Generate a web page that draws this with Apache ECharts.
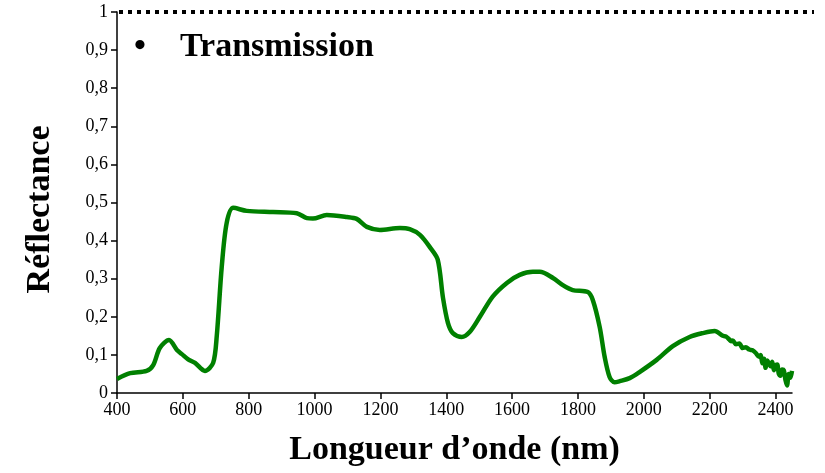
<!DOCTYPE html>
<html>
<head>
<meta charset="utf-8">
<script src="https://cdn.jsdelivr.net/npm/echarts@6/dist/echarts.min.js"></script>
<style>
  html, body { margin: 0; padding: 0; background: #fff; }
  #chart { width: 825px; height: 473px; }
</style>
</head>
<body>
<div id="chart"></div>
<script>
// longueur d'onde (nm) et réflectance
var wavelengths = [
  400, 440, 490, 510, 530, 558, 582, 597, 615, 637, 667, 692, 703, 718, 733, 753,
  794, 874, 946, 977, 995, 1037, 1098, 1128, 1159, 1198, 1259, 1289, 1320, 1350, 1374, 1390,
  1405, 1420, 1447, 1471, 1502, 1541, 1584, 1623, 1663, 1684, 1724, 1754, 1784, 1830, 1845, 1866,
  1881, 1896, 1911, 1927, 1957, 1987, 2039, 2088, 2139, 2178, 2215, 2240, 2250, 2260, 2265, 2270,
  2280, 2290, 2300, 2310, 2320, 2330, 2340, 2350, 2355, 2360, 2365, 2370, 2375, 2380, 2385, 2390,
  2395, 2400, 2405, 2410, 2415, 2420, 2425, 2430, 2435, 2440, 2445, 2450
];
var reflectance = [
  0.037, 0.052, 0.058, 0.073, 0.118, 0.139, 0.113, 0.102, 0.089, 0.079, 0.058, 0.079, 0.15, 0.33, 0.446, 0.486,
  0.478, 0.475, 0.472, 0.459, 0.458, 0.467, 0.462, 0.457, 0.436, 0.428, 0.433, 0.43, 0.415, 0.383, 0.35, 0.25,
  0.184, 0.157, 0.147, 0.16, 0.2, 0.253, 0.289, 0.31, 0.318, 0.318, 0.302, 0.283, 0.27, 0.265, 0.244, 0.173,
  0.095, 0.042, 0.028, 0.031, 0.039, 0.055, 0.087, 0.123, 0.147, 0.157, 0.163, 0.15, 0.148, 0.14, 0.136, 0.138,
  0.128, 0.13, 0.118, 0.12, 0.114, 0.112, 0.105, 0.095, 0.1, 0.078, 0.09, 0.066, 0.085, 0.078, 0.07, 0.082,
  0.06, 0.072, 0.075, 0.05, 0.045, 0.062, 0.06, 0.035, 0.02, 0.05, 0.04, 0.058
];
var xTicks = [400, 600, 800, 1000, 1200, 1400, 1600, 1800, 2000, 2200, 2400];

var serif = '"Liberation Serif", "Times New Roman", serif';

var points = [];
for (var i = 0; i < wavelengths.length; i++) {
  points.push([wavelengths[i], reflectance[i]]);
}

var myChart = echarts.init(document.getElementById('chart'));
var option = {
  animation: false,
  title: {
    text: '•    Transmission',
    left: 129,
    top: 25,
    textStyle: { fontFamily: serif, fontSize: 34, fontWeight: 'bold', color: '#000' }
  },
  grid: { left: 117, right: 33, top: 12, bottom: 80 },
  xAxis: {
    type: 'value',
    min: 400,
    max: 2450,
    interval: 200,
    name: 'Longueur d’onde (nm)',
    nameLocation: 'middle',
    nameGap: 40,
    nameTextStyle: { fontFamily: serif, fontSize: 34, fontWeight: 'bold', color: '#000' },
    splitLine: { show: false },
    axisLine: { lineStyle: { color: '#000', width: 1.5 } },
    axisTick: { length: 6, lineStyle: { color: '#000', width: 1.5 }, customValues: xTicks },
    axisLabel: {
      fontFamily: serif, fontSize: 18, color: '#000', margin: 8, customValues: xTicks,
      formatter: function (v) { return String(v); }
    }
  },
  yAxis: {
    type: 'value',
    min: 0,
    max: 1,
    interval: 0.1,
    name: 'Réflectance',
    nameLocation: 'middle',
    nameGap: 60,
    nameTextStyle: { fontFamily: serif, fontSize: 34, fontWeight: 'bold', color: '#000', padding: [0, 14, 0, 0] },
    splitLine: { show: false },
    axisLine: { show: true, lineStyle: { color: '#000', width: 1.5 } },
    axisTick: { show: true, length: 6, lineStyle: { color: '#000', width: 1.5 } },
    axisLabel: {
      fontFamily: serif, fontSize: 18, color: '#000', margin: 9,
      formatter: function (v) { return String(Math.round(v * 10) / 10).replace('.', ','); }
    }
  },
  series: [{
    type: 'line',
    data: points,
    smooth: 0.3,
    showSymbol: false,
    lineStyle: { color: '#008000', width: 4.5 }
  }]
};
myChart.setOption(option);

// ligne pointillée à 1, elle dépasse un peu le cadre à droite
var p = myChart.convertToPixel({ gridIndex: 0 }, [400, 1]);
myChart.setOption({
  graphic: [{
    type: 'line',
    shape: { x1: p[0] + 2, y1: p[1], x2: 814, y2: p[1] },
    style: { stroke: '#000', lineWidth: 4, lineDash: [4, 5] },
    z: 10
  }]
});
</script>
</body>
</html>
